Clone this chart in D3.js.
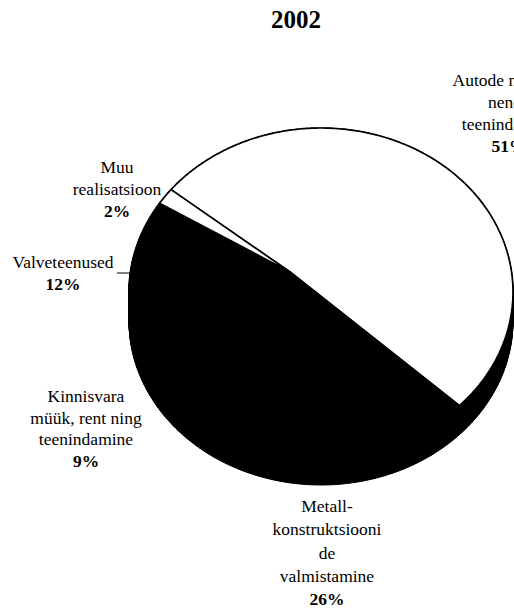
<!DOCTYPE html>
<html>
<head>
<meta charset="utf-8">
<script src="https://cdn.jsdelivr.net/npm/d3@7"></script>
<style>
  html, body { margin: 0; padding: 0; background: #fff; }
  svg { display: block; }
  text { font-family: "Liberation Serif", "Times New Roman", serif; fill: #000; }
</style>
</head>
<body>
<div id="chart"></div>
<script>
// ---- data ----
const title = "2002";
const categories = [
  "Autode müük ja\nnende\nteenindamine",
  "Metall-\nkonstruktsiooni\nde\nvalmistamine",
  "Kinnisvara\nmüük, rent ning\nteenindamine",
  "Valveteenused",
  "Muu\nrealisatsioon"
];
const values = [51, 26, 9, 12, 2];
const percentLabels = ["51%", "26%", "9%", "12%", "2%"];
const sliceColors = ["#ffffff", "#000000", "#000000", "#000000", "#ffffff"];

// ---- layout ----
const W = 514, H = 609;
const cx = 321, cy = 292, rx = 192, ry = 164, depth = 29;
const apex = [290, 272];           // perspective-projected pie centre
const startDeg = -51;
const labelAnchors = [             // centre x, first baseline y
  [509, 86], [327, 512], [86, 402], [63, 268], [117, 173]
];
const lineH = [22, 23.3, 21.7, 22, 22];

const svg = d3.select("#chart").append("svg")
  .attr("width", W).attr("height", H);

// perspective (projective) map of the unit circle onto the drawn ellipse
const p = [(apex[0] - cx) / rx, (apex[1] - cy) / ry];
const a = Math.hypot(p[0], p[1]);
const e = [p[0] / a, p[1] / a];
const ep = [-e[1], e[0]];
const k = Math.sqrt(1 - a * a);
function proj(theta, r = 1) {
  const u = r * Math.sin(theta), v = -r * Math.cos(theta);
  const x = u * e[0] + v * e[1], y = u * ep[0] + v * ep[1];
  const d = 1 + a * x;
  const x2 = (x + a) / d, y2 = y * k / d;
  const U = x2 * e[0] + y2 * ep[0], V = x2 * e[1] + y2 * ep[1];
  return [cx + rx * U, cy + ry * V];
}

const pie = d3.pie().sort(null).value(d => d)
  .startAngle(startDeg * Math.PI / 180)
  .endAngle(startDeg * Math.PI / 180 + 2 * Math.PI);
const arcs = pie(values);

function arcPoints(d) {
  const n = Math.max(2, Math.ceil((d.endAngle - d.startAngle) / 0.01));
  return d3.range(n + 1).map(i => proj(d.startAngle + (d.endAngle - d.startAngle) * i / n));
}

// walls (side of the 3D pie): oriented quads so they union cleanly
const gWall = svg.append("g");
gWall.selectAll("path").data(arcs).join("path")
  .attr("d", d => {
    const pts = arcPoints(d);
    let s = "";
    for (let i = 0; i < pts.length - 1; i++) {
      let q = [pts[i], pts[i + 1], [pts[i + 1][0], pts[i + 1][1] + depth], [pts[i][0], pts[i][1] + depth]];
      let area = 0;
      for (let j = 0; j < 4; j++) {
        const A = q[j], B = q[(j + 1) % 4];
        area += A[0] * B[1] - B[0] * A[1];
      }
      if (area < 0) q = q.reverse();
      s += "M" + q.map(c => c[0].toFixed(2) + "," + c[1].toFixed(2)).join("L") + "Z";
    }
    return s;
  })
  .attr("fill", "#000")
  .attr("stroke", "#000")
  .attr("stroke-width", 1);

// top faces
const line = d3.line();
svg.append("g").selectAll("path").data(arcs).join("path")
  .attr("d", d => line([apex, ...arcPoints(d)]) + "Z")
  .attr("fill", (d, i) => sliceColors[i])
  .attr("stroke", "#000")
  .attr("stroke-width", 1.7)
  .attr("stroke-linejoin", "round");

// leader line for Valveteenused: horizontal from the label to the slice's edge
const iv = 3;
const leaderY = labelAnchors[iv][1] + 5;
let best = null;
d3.range(200).forEach(i => {
  const th = arcs[iv].startAngle + (arcs[iv].endAngle - arcs[iv].startAngle) * i / 199;
  const pt = proj(th);
  if (!best || Math.abs(pt[1] - leaderY) < Math.abs(best[1] - leaderY)) best = pt;
});
svg.append("line")
  .attr("x1", 117).attr("y1", leaderY)
  .attr("x2", best[0] + 1).attr("y2", leaderY)
  .attr("stroke", "#000").attr("stroke-width", 1);

// labels
const gLab = svg.append("g");
categories.forEach((cat, i) => {
  const lines = cat.split("\n");
  const t = gLab.append("text")
    .attr("text-anchor", "middle")
    .attr("font-size", 17.5);
  lines.forEach((ln, j) => {
    t.append("tspan")
      .attr("x", labelAnchors[i][0])
      .attr("y", labelAnchors[i][1] + j * lineH[i])
      .text(ln);
  });
  t.append("tspan")
    .attr("x", labelAnchors[i][0])
    .attr("y", labelAnchors[i][1] + lines.length * lineH[i])
    .attr("font-weight", "bold")
    .text(percentLabels[i]);
});

// title
svg.append("text")
  .attr("x", 296).attr("y", 28)
  .attr("text-anchor", "middle")
  .attr("font-size", 25)
  .attr("font-weight", "bold")
  .text(title);
</script>
</body>
</html>
